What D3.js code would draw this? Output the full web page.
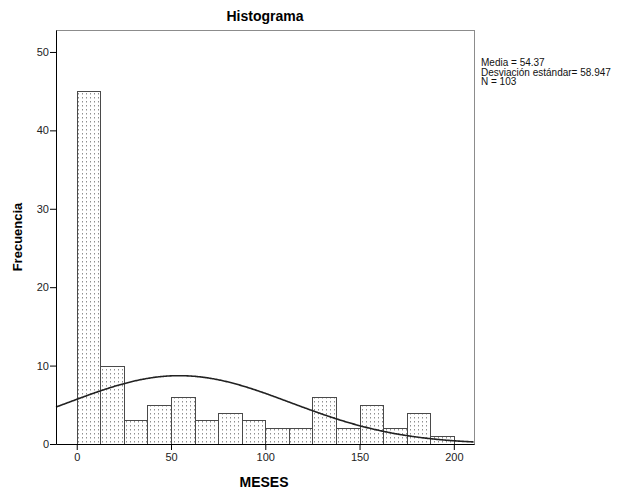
<!DOCTYPE html>
<html>
<head>
<meta charset="utf-8">
<script src="https://cdn.jsdelivr.net/npm/d3@7"></script>
<style>
  body { margin: 0; background: #fff; }
  svg { font-family: Arial, "Liberation Sans", sans-serif; }
</style>
</head>
<body>
<script>
const binStarts = [0, 12.5, 25, 37.5, 50, 62.5, 75, 87.5, 100, 112.5, 125, 137.5, 150, 162.5, 175, 187.5];
const counts = [45, 10, 3, 5, 6, 3, 4, 3, 2, 2, 6, 2, 5, 2, 4, 1];
const binWidth = 12.5;
const xTicks = [0, 50, 100, 150, 200];
const yTicks = [0, 10, 20, 30, 40, 50];
// estadísticos de la leyenda
const media = 54.37;
const desviacion = 58.947;
const n = 103;
const legendLines = ['Media = 54.37', 'Desviación estándar= 58.947', 'N = 103'];

const width = 634, height = 491;
const plotLeft = 56, plotRight = 474, plotTop = 30, plotBottom = 444;

const svg = d3.select('body').append('svg')
   .attr('width', width)
   .attr('height', height);

// patrón punteado de las barras
const pat = svg.append('defs').append('pattern')
   .attr('id', 'dots')
   .attr('patternUnits', 'userSpaceOnUse')
   .attr('width', 4)
   .attr('height', 4);
pat.append('rect').attr('width', 4).attr('height', 4).attr('fill', '#fff');
pat.append('rect').attr('x', 2).attr('y', 1).attr('width', 1).attr('height', 1.5).attr('fill', '#8f8f8f');

const x = d3.scaleLinear().domain([-11, 210.7]).range([plotLeft, plotRight]);
const y = d3.scaleLinear().domain([0, 52.8]).range([plotBottom, plotTop]);

// marco
svg.append('rect')
   .attr('x', plotLeft + 0.5).attr('y', plotTop + 0.5)
   .attr('width', plotRight - plotLeft).attr('height', plotBottom - plotTop)
   .attr('fill', 'none')
   .attr('stroke', '#8c8c8c');

// barras
svg.append('g').selectAll('rect')
   .data(counts)
   .enter().append('rect')
   .attr('x', (d, i) => Math.round(x(binStarts[i])) + 0.5)
   .attr('y', d => Math.round(y(d)) + 0.5)
   .attr('width', (d, i) => Math.round(x(binStarts[i] + binWidth)) - Math.round(x(binStarts[i])))
   .attr('height', d => Math.round(y(0)) - Math.round(y(d)))
   .attr('fill', 'url(#dots)')
   .attr('stroke', '#4a4a4a')
   .attr('stroke-width', 1);

// curva normal ajustada
const xs = d3.range(-11, 210.8, 0.5);
const curve = d3.line()
   .x(d => x(d))
   .y(d => y(n * binWidth / (desviacion * Math.sqrt(2 * Math.PI)) * Math.exp(-0.5 * Math.pow((d - media) / desviacion, 2))));
svg.append('path')
   .datum(xs)
   .attr('d', curve)
   .attr('fill', 'none')
   .attr('stroke', '#222')
   .attr('stroke-width', 1.6);

// ejes
const xAxis = svg.append('g')
   .attr('transform', 'translate(0,' + plotBottom + ')')
   .call(d3.axisBottom(x).tickValues(xTicks).tickSize(6).tickSizeOuter(0));
const yAxis = svg.append('g')
   .attr('transform', 'translate(' + plotLeft + ',0)')
   .call(d3.axisLeft(y).tickValues(yTicks).tickSize(6).tickSizeOuter(0));
[xAxis, yAxis].forEach(a => {
   a.select('.domain').attr('stroke', '#000');
   a.selectAll('.tick line').attr('stroke', '#000');
   a.selectAll('.tick text').attr('font-size', 11).attr('font-family', 'Arial, "Liberation Sans", sans-serif').attr('fill', '#222');
});
yAxis.selectAll('.tick text').attr('x', -7);
xAxis.selectAll('.tick text').attr('y', 9);

// títulos
svg.append('text')
   .attr('x', (plotLeft + plotRight) / 2).attr('y', 21)
   .attr('text-anchor', 'middle')
   .attr('font-size', 14).attr('font-weight', 'bold')
   .text('Histograma');
svg.append('text')
   .attr('x', (plotLeft + plotRight) / 2 - 1).attr('y', 487)
   .attr('text-anchor', 'middle')
   .attr('font-size', 14).attr('font-weight', 'bold')
   .text('MESES');
svg.append('text')
   .attr('transform', 'translate(22,' + ((plotTop + plotBottom) / 2) + ') rotate(-90)')
   .attr('text-anchor', 'middle')
   .attr('font-size', 13).attr('font-weight', 'bold')
   .text('Frecuencia');

// leyenda
svg.append('g').selectAll('text')
   .data(legendLines)
   .enter().append('text')
   .attr('x', 481)
   .attr('y', (d, i) => 66 + i * 9.5)
   .attr('font-size', 10)
   .attr('fill', '#111')
   .text(d => d);
</script>
</body>
</html>
